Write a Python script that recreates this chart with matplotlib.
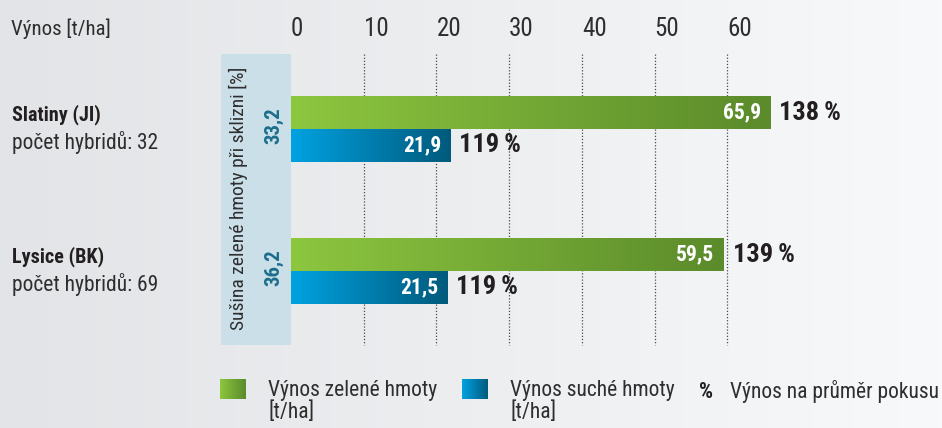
import numpy as np
import matplotlib
matplotlib.use("Agg")
import matplotlib.pyplot as plt
from matplotlib import font_manager
from matplotlib.patches import Rectangle
from matplotlib.colors import LinearSegmentedColormap

# ---------------- data ----------------
locations = ["Slatiny (JI)", "Lysice (BK)"]
hybrids = [32, 69]
green_yield = [65.9, 59.5]
dry_yield = [21.9, 21.5]
green_pct = [138, 139]
dry_pct = [119, 119]
dry_matter = [33.2, 36.2]
xticks = [0, 10, 20, 30, 40, 50, 60]
axis_label = "Výnos [t/ha]"
panel_label = "Sušina zelené hmoty při sklizni [%]"
legend_labels = ["Výnos zelené hmoty\n[t/ha]", "Výnos suché hmoty\n[t/ha]", "Výnos na průměr pokusu"]

# ---------------- font ----------------
avail = {f.name for f in font_manager.fontManager.ttflist}
fam = "DejaVu Sans"
for cand in ["Roboto Condensed", "Liberation Sans Narrow", "Open Sans Condensed", "DejaVu Sans Condensed", "Roboto"]:
    if cand in avail:
        fam = cand
        break
plt.rcParams["font.family"] = [fam, "DejaVu Sans"]

W, H = 942, 428
fig = plt.figure(figsize=(W / 100, H / 100), dpi=100)
ax = fig.add_axes([0, 0, 1, 1])
X0, SX = 291, 7.27  # pixel of zero, pixels per t/ha
ax.set_xlim(-X0 / SX, (W - X0) / SX)
ax.set_ylim(H, 0)
ax.axis("off")

def px(x):
    return (x - X0) / SX

# background gradient
bg = LinearSegmentedColormap.from_list("bg", ["#e2e4e7", "#eceef0", "#f8f9fa"])
ax.imshow(np.linspace(0, 1, 256).reshape(1, -1), cmap=bg, aspect="auto",
          extent=(px(0), px(W), H, 0), zorder=0)

text_col = "#231f20"
grey_txt = "#2e2e2e"
# panel
ax.add_patch(Rectangle((px(221), 54), px(291) - px(221), 291, facecolor="#cbdfe9",
                       edgecolor="none", zorder=1))
ax.text(px(238), 198, panel_label, rotation=90, ha="center", va="center",
        fontsize=14, color=grey_txt, zorder=3)

# gridlines
for t in xticks[1:]:
    ax.plot([t, t], [54, 345], linestyle=(0, (1, 1.5)), color="#4a4a4a", lw=0.9, zorder=1.5)

# tick labels
for t in xticks:
    ax.text(t, 29, str(t), ha="left", va="center", fontsize=18, color=grey_txt)
ax.text(px(11), 29, axis_label, ha="left", va="center", fontsize=15, color=grey_txt)

cm_green = LinearSegmentedColormap.from_list("g", ["#8dc63f", "#5b8b2b"])
cm_blue = LinearSegmentedColormap.from_list("b", ["#00a2e1", "#005a7c"])
grad = np.linspace(0, 1, 256).reshape(1, -1)

def grad_bar(val, ytop, h, cmap):
    rect = Rectangle((0, ytop), val, h, facecolor="none", edgecolor="none", zorder=2)
    ax.add_patch(rect)
    im = ax.imshow(grad, cmap=cmap, aspect="auto", extent=(0, val, ytop + h, ytop), zorder=2)
    im.set_clip_path(rect)

bar_h = 33
for i in range(len(locations)):
    yc = 129 + 142 * i
    grad_bar(green_yield[i], yc - bar_h, bar_h, cm_green)
    grad_bar(dry_yield[i], yc, bar_h, cm_blue)
    # value labels
    ax.annotate(f"{green_yield[i]:.1f}".replace(".", ","), (green_yield[i], yc - bar_h / 2),
                xytext=(-6.5, 0), textcoords="offset points", ha="right", va="center",
                fontsize=15.5, fontweight="bold", color="white", zorder=4)
    ax.annotate(f"{dry_yield[i]:.1f}".replace(".", ","), (dry_yield[i], yc + bar_h / 2),
                xytext=(-6.5, 0), textcoords="offset points", ha="right", va="center",
                fontsize=15.5, fontweight="bold", color="white", zorder=4)
    ax.annotate(f"{green_pct[i]}\u2009%", (green_yield[i], yc - bar_h / 2),
                xytext=(6.5, 0), textcoords="offset points", ha="left", va="center",
                fontsize=19, fontweight="bold", color=text_col, zorder=4)
    ax.annotate(f"{dry_pct[i]}\u2009%", (dry_yield[i], yc + bar_h / 2),
                xytext=(6.5, 0), textcoords="offset points", ha="left", va="center",
                fontsize=19, fontweight="bold", color=text_col, zorder=4)
    # dry matter
    ax.text(px(274), yc - 3, f"{dry_matter[i]:.1f}".replace(".", ","), rotation=90,
            ha="center", va="center", fontsize=15, fontweight="bold", color="#1c6e8c", zorder=4)
    # left labels
    ax.text(px(12), yc - 14, locations[i], ha="left", va="center", fontsize=14.5,
            fontweight="bold", color=text_col)
    ax.text(px(12), yc + 13, f"počet hybridů: {hybrids[i]}", ha="left", va="center",
            fontsize=15.5, color=grey_txt)

# legend
def legend_swatch(x0, cmap):
    rect = Rectangle((px(x0), 379), 26 / SX, 20, facecolor="none", edgecolor="none", zorder=2)
    ax.add_patch(rect)
    im = ax.imshow(grad, cmap=cmap, aspect="auto", extent=(px(x0), px(x0 + 26), 399, 379), zorder=2)
    im.set_clip_path(rect)

legend_swatch(220, cm_green)
legend_swatch(462, cm_blue)
ax.text(px(268), 380, legend_labels[0], ha="left", va="top", fontsize=15.5,
        color=grey_txt, linespacing=1.0)
ax.text(px(510), 380, legend_labels[1], ha="left", va="top", fontsize=15.5,
        color=grey_txt, linespacing=1.0)
ax.text(px(699), 392, "%", ha="left", va="center", fontsize=16, fontweight="bold", color=text_col)
ax.text(px(730), 380, legend_labels[2], ha="left", va="top", fontsize=15.5, color=grey_txt)

fig.savefig("out.png", dpi=100)
